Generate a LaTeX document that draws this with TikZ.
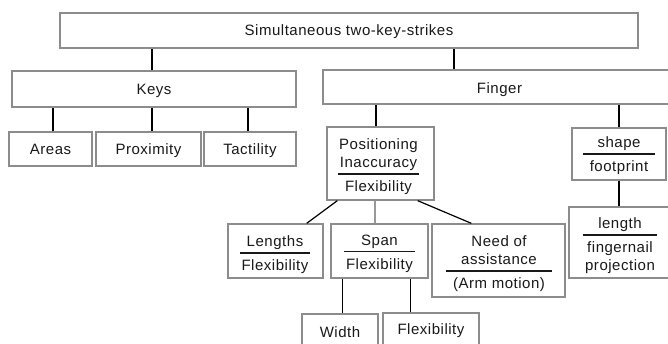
\documentclass[tikz,border=0pt]{standalone}
\usepackage{fontspec}
\setmainfont[LetterSpace=3.5]{Liberation Sans}
\usetikzlibrary{calc}
\newcommand\hsep[1]{\\[-11pt]\rule{#1}{1.4pt}\\[-1pt]}
\tikzset{
  bx/.style={draw=black!45, line width=1.3pt, rectangle, inner sep=0pt, fill=white},
  txt/.style={inner sep=0pt, align=center, text=black!90, font=\fontsize{15}{18}\selectfont},
  one/.style={txt, anchor=base},
  multi/.style={txt, anchor=north},
  link/.style={draw=black, line width=1.2pt},
  glink/.style={draw=black!40, line width=1.2pt}
}
\begin{document}
\begin{tikzpicture}[x=1pt, y=-1pt]
\useasboundingbox (0,0) rectangle (668,343);
\clip (0,0) rectangle (668,343);
% boxes
\node[bx, minimum width=578, minimum height=35] (top) at (349,30.5) {};
\node[bx, minimum width=284, minimum height=36] (keys) at (154,89) {};
\node[bx, minimum width=353, minimum height=34] (finger) at (499.5,87) {};
\node[bx, minimum width=83, minimum height=34] (areas) at (50.5,149) {};
\node[bx, minimum width=105, minimum height=34] (prox) at (148.5,149) {};
\node[bx, minimum width=92, minimum height=34] (tact) at (250,149) {};
\node[bx, minimum width=107, minimum height=73] (pos) at (380.5,163.5) {};
\node[bx, minimum width=94, minimum height=52] (shape) at (619,154) {};
\node[bx, minimum width=95, minimum height=54] (lengths) at (275.5,251) {};
\node[bx, minimum width=97, minimum height=54] (span) at (379.5,251) {};
\node[bx, minimum width=133, minimum height=73] (need) at (498.5,260.5) {};
\node[bx, minimum width=102, minimum height=71] (length) at (620,242.5) {};
\node[bx, minimum width=76, minimum height=36] (width) at (340,332) {};
\node[bx, minimum width=96, minimum height=36] (flex) at (431,331) {};
% texts
\node[one] (topt) at ($(top.center)+(0,5.4)$) {Simultaneous two-key-strikes};
\node[one] (keyst) at ($(keys.center)+(0,5.4)$) {Keys};
\node[one] (fingert) at ($(finger.center)+(0,6.4)$) {Finger};
\node[one] (areast) at ($(areas.center)+(0,5.4)$) {Areas};
\node[one] (proxt) at ($(prox.center)+(0,5.4)$) {Proximity};
\node[one] (tactt) at ($(tact.center)+(0,5.4)$) {Tactility};
\node[one] (widtht) at ($(width.center)+(0,5.4)$) {Width};
\node[one] (flext) at ($(flex.center)+(0,3.4)$) {Flexibility};
\node[multi] (post) at (378.5,138.75) {Positioning\\Inaccuracy\hsep{81pt}Flexibility};
\node[multi] (shapet) at (619,136.75) {shape\hsep{72pt}footprint};
\node[multi] (lengthst) at (275,235.75) {Lengths\hsep{70pt}Flexibility};
\node[multi] (spant) at (379.5,234.75) {Span\hsep{71pt}Flexibility};
\node[multi] (needt) at (499,235.75) {Need of\\assistance\hsep{106pt}(Arm motion)};
\node[multi] (lengtht) at (620,217.75) {length\hsep{74pt}fingernail\\projection};
% connectors
\draw[link] ($(keys.north)+(-2,0)$) coordinate (c1) -- (c1 |- top.south);
\draw[link] ($(top.south)+(105,0)$) coordinate (c2) -- (c2 |- finger.north);
\draw[link] ($(areas.north)+(2.5,0)$) coordinate (c3) -- (c3 |- keys.south);
\draw[link] ($(prox.north)+(3.5,0)$) coordinate (c4) -- (c4 |- keys.south);
\draw[link] ($(tact.north)+(-2,0)$) coordinate (c5) -- (c5 |- keys.south);
\draw[link] ($(pos.north)+(-4.5,0)$) coordinate (c6) -- (c6 |- finger.south);
\draw[link] (shape.north) -- (shape.north |- finger.south);
\draw[link] (shape.south) -- (shape.south |- length.north);
\draw[link] ($(pos.south west)+(11,0)$) -- ($(lengths.north east)+(-17,0)$);
\draw[glink] ($(span.north)+(-4.5,0)$) coordinate (c7) -- (c7 |- pos.south);
\draw[link] ($(pos.south east)+(-17,0)$) -- ($(need.north west)+(40,0)$);
\draw[link] ($(span.south west)+(12,0)$) coordinate (c8) -- (c8 |- width.north);
\draw[link] ($(span.south east)+(-18,0)$) coordinate (c9) -- (c9 |- flex.north);
\end{tikzpicture}
\end{document}
